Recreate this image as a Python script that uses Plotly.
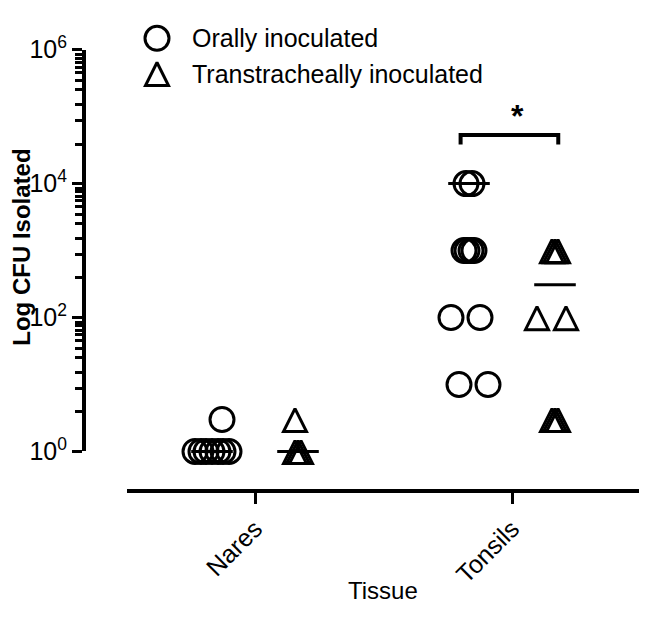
import plotly.graph_objects as go

# ---------------- data ----------------
tissues = ["Nares", "Tonsils"]

oral_nares = [1, 1, 1, 1, 1, 1, 1, 3]
oral_tonsils = [10000, 10000, 1000, 1000, 1000, 1000, 100, 100, 10, 10]
trans_nares = [3, 1, 1, 1]
trans_tonsils = [1000, 1000, 1000, 100, 100, 3, 3, 3]

oral_center = [1, 10000]      # horizontal summary lines
trans_center = [1, 310]

# horizontal scatter of overlapping points (pixels)
oral_nares_jit = [-17, -11, -6, 0, 6, 11, 17, 10]
oral_tonsils_jit = [-3, 3, -5, -2, 2, 5, -18, 11, -10, 19]
trans_nares_jit = [-3, -3, 0, 3]
trans_tonsils_jit = [-3, 0, 3, -18, 11, -3, 0, 3]

y_tickvals = [1, 100, 10000, 1000000]
y_ticktext = ["10<sup>0</sup>", "10<sup>2</sup>", "10<sup>4</sup>", "10<sup>6</sup>"]
minor_mult = [3.9, 8.7, 15, 25, 35, 45, 55, 65, 75, 85]

series_names = ["Orally inoculated", "Transtracheally inoculated"]
sig_label = "*"
sig_pair = [0.80, 1.18]
sig_level = [10 ** 4.585, 10 ** 4.726]

# ---------------- layout constants (figure pixels) ----------------
W, H = 631, 610
FONT = "Liberation Sans, Arial, sans-serif"
CAT0_PX, PX_PER_CAT = 247, 257          # x pixel of first category, spacing
X_DOM = (119, 631)                      # x axis extent
Y_AX_PX = 76                            # y axis line
Y_TOP, Y_BOT = 25, 449                  # pixels of 10^6 and 10^0
X_AX_PX = 491                           # x axis line
PX_PER_DEC = (Y_BOT - Y_TOP) / 6
GROUP_OFF = 43 / PX_PER_CAT
TRI_SIZE = 23
TRI_LIFT = 10 ** ((TRI_SIZE / 2) / PX_PER_DEC)   # arrow-up hangs below its anchor

minor_vals = [b * m for b in y_tickvals[:-1] for m in minor_mult]


def xs(cat_idx, jit, side):
    return [cat_idx + side * GROUP_OFF + j / PX_PER_CAT for j in jit]


fig = go.Figure()

circle_style = dict(symbol="circle-open", size=24, color="black",
                    line=dict(width=3, color="black"))
tri_style = dict(symbol="arrow-up-open", size=TRI_SIZE, color="black",
                 line=dict(width=3, color="black"))

fig.add_trace(go.Scatter(
    x=xs(0, oral_nares_jit, -1) + xs(1, oral_tonsils_jit, -1),
    y=oral_nares + oral_tonsils, mode="markers", marker=circle_style,
    cliponaxis=False, showlegend=False))
fig.add_trace(go.Scatter(
    x=xs(0, trans_nares_jit, 1) + xs(1, trans_tonsils_jit, 1),
    y=[v * TRI_LIFT for v in trans_nares + trans_tonsils], mode="markers", marker=tri_style,
    cliponaxis=False, showlegend=False))

# summary lines
fig.add_trace(go.Scatter(
    x=[i - GROUP_OFF for i in range(len(tissues))] + [i + GROUP_OFF for i in range(len(tissues))],
    y=oral_center + trans_center, mode="markers",
    marker=dict(symbol="line-ew", size=29.7, line=dict(width=3, color="black")),
    cliponaxis=False, showlegend=False))

# significance bracket
fig.add_trace(go.Scatter(
    x=[sig_pair[0], sig_pair[0], sig_pair[1], sig_pair[1]],
    y=[sig_level[0], sig_level[1], sig_level[1], sig_level[0]],
    mode="lines", line=dict(color="black", width=4), showlegend=False,
    cliponaxis=False))
fig.add_trace(go.Scatter(
    x=[(sig_pair[0] + sig_pair[1]) / 2 + 0.03], y=[10 ** 4.97], mode="text",
    text=[sig_label], textposition="middle center",
    textfont=dict(family=FONT, size=32, color="black", weight="bold"),
    cliponaxis=False, showlegend=False))

# legend swatches on a pixel-space overlay
LEG_X, LEG_Y, LEG_TX = 149, [13, 50], 182
fig.add_trace(go.Scatter(x=[LEG_X], y=[LEG_Y[0]], xaxis="x2", yaxis="y2", mode="markers",
                         marker=circle_style, cliponaxis=False, showlegend=False))
fig.add_trace(go.Scatter(x=[LEG_X], y=[LEG_Y[1] - TRI_SIZE / 2], xaxis="x2", yaxis="y2",
                         mode="markers", marker=tri_style, cliponaxis=False, showlegend=False))

annotations = [
    dict(text=series_names[0], x=LEG_TX / W, y=1 - LEG_Y[0] / H, xref="paper", yref="paper",
         xanchor="left", yanchor="middle", showarrow=False,
         font=dict(family=FONT, size=25, color="black")),
    dict(text=series_names[1], x=LEG_TX / W, y=1 - (LEG_Y[1] + 1) / H, xref="paper",
         yref="paper", xanchor="left", yanchor="middle", showarrow=False,
         font=dict(family=FONT, size=25, color="black")),
    dict(text="<b>Log CFU Isolated</b>", x=14 / W, y=1 - 234 / H, xref="paper", yref="paper",
         xanchor="center", yanchor="middle", textangle=-90, showarrow=False,
         font=dict(family=FONT, size=24, color="black")),
    dict(text="Tissue", x=375 / W, y=1 - 596 / H, xref="paper", yref="paper",
         xanchor="center", yanchor="middle", showarrow=False,
         font=dict(family=FONT, size=24, color="black")),
]

fig.update_layout(
    width=W, height=H,
    margin=dict(l=0, r=0, t=0, b=0),
    paper_bgcolor="white", plot_bgcolor="rgba(0,0,0,0)",
    font=dict(family=FONT, color="black"),
    showlegend=False,
    annotations=annotations,
    xaxis=dict(domain=[X_DOM[0] / W, X_DOM[1] / W],
               range=[(X_DOM[0] - CAT0_PX) / PX_PER_CAT, (X_DOM[1] - CAT0_PX) / PX_PER_CAT],
               anchor="free", position=1 - X_AX_PX / H, showline=True, linewidth=4,
               linecolor="black", ticks="outside", ticklen=11, tickwidth=3, tickcolor="black",
               tickmode="array", tickvals=list(range(len(tissues))), ticktext=tissues,
               tickangle=-45, tickfont=dict(family=FONT, size=25, color="black"),
               showgrid=False, zeroline=False),
    yaxis=dict(type="log", range=[0, 6], domain=[1 - Y_BOT / H, 1 - Y_TOP / H],
               anchor="free", position=Y_AX_PX / W, showline=True, linewidth=4,
               linecolor="black", ticks="outside", ticklen=10, tickwidth=3,
               tickcolor="black", tickmode="array", tickvals=y_tickvals,
               ticktext=y_ticktext, tickfont=dict(family=FONT, size=25, color="black"),
               showgrid=False, zeroline=False,
               minor=dict(tickmode="array", tickvals=minor_vals, ticks="outside",
                          ticklen=7, tickwidth=3, tickcolor="black", showgrid=False)),
    xaxis2=dict(domain=[0, 1], range=[0, W], anchor="y2", visible=False),
    yaxis2=dict(domain=[0, 1], range=[H, 0], anchor="x2", visible=False),
)

fig.write_html("out.html")
